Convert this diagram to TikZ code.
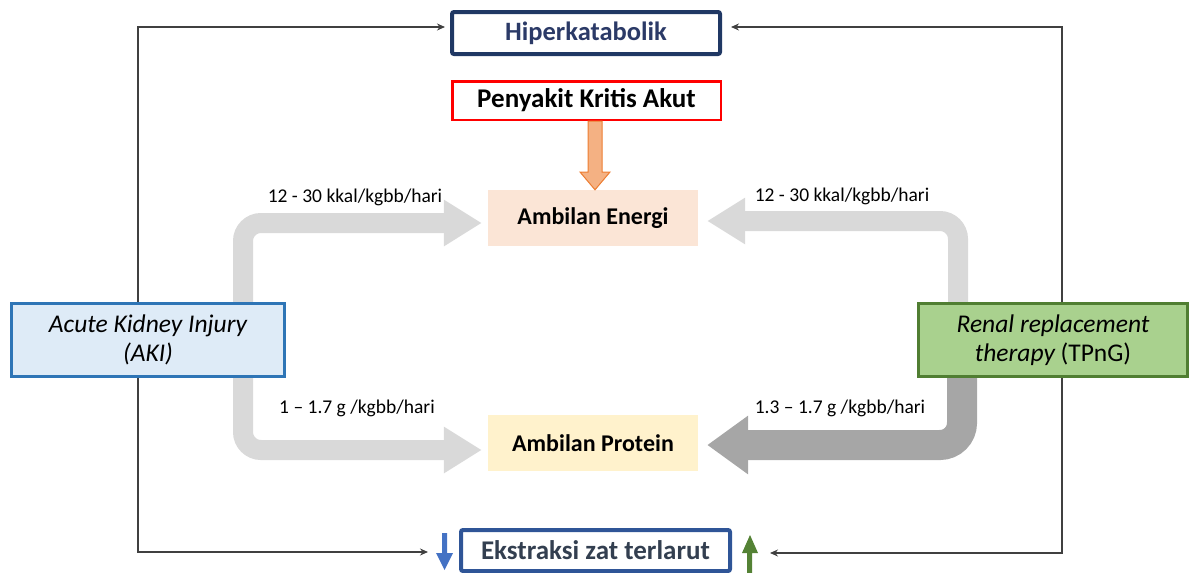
\documentclass[tikz,border=0pt]{standalone}
\usepackage{fontspec}
\setmainfont{Carlito}
\usetikzlibrary{arrows.meta}
\definecolor{navy}{HTML}{203864}
\definecolor{navytext}{HTML}{2B3A67}
\definecolor{slate}{HTML}{333F50}
\definecolor{oranfill}{HTML}{F4B183}
\definecolor{oranline}{HTML}{ED7D31}
\definecolor{peach}{HTML}{FBE5D6}
\definecolor{cream}{HTML}{FFF2CC}
\definecolor{akifill}{HTML}{DEEBF7}
\definecolor{akiline}{HTML}{2E75B6}
\definecolor{rrtfill}{HTML}{A9D18E}
\definecolor{rrtline}{HTML}{507E32}
\definecolor{extline}{HTML}{2F5597}
\definecolor{lightgray}{HTML}{D9D9D9}
\definecolor{midgray}{HTML}{A6A6A6}
\definecolor{bluearrow}{HTML}{4472C4}
\definecolor{greenarrow}{HTML}{548235}
\definecolor{linkgray}{HTML}{404040}
\begin{document}
\begin{tikzpicture}[x=1pt,y=-1pt,
  titlebox/.style={draw, rounded corners=2pt, inner sep=0pt, font=\fontsize{26.5}{30}\selectfont\bfseries},
  intakebox/.style={inner sep=0pt, minimum width=210, minimum height=56, font=\fontsize{24}{28}\selectfont\bfseries},
  sidebox/.style={draw, line width=3pt, inner sep=0pt, minimum width=272, minimum height=73, align=center, font=\fontsize{25.5}{29.5}\selectfont},
  link/.style={draw=linkgray, line width=1.2pt, {Stealth[length=8pt,width=7pt]}-{Stealth[length=8pt,width=7pt]}},
  flow/.style={line width=20pt, rounded corners=18pt, draw=lightgray, -{Triangle[length=38pt,width=44pt]}},
  flowbold/.style={line width=30pt, rounded corners=22pt, draw=midgray, -{Triangle[length=41pt,width=56pt]}},
  rate/.style={font=\fontsize{19.5}{23}\selectfont, inner sep=0pt}
]
\useasboundingbox (0,0) rectangle (1189,573);

% thin outer connectors (drawn first so the side boxes cover them)
\coordinate (hipL) at (445,27);
\coordinate (hipR) at (731,27);
\coordinate (cornerTL) at (138,27);
\coordinate (cornerBL) at (138,552);
\coordinate (cornerTR) at (1062,27);
\coordinate (cornerBR) at (1062,553);
\coordinate (extL) at (428,552);
\coordinate (extR) at (770,553);
\draw[link] (hipL) -- (cornerTL) -- (cornerBL) -- (extL);
\draw[link] (hipR) -- (cornerTR) -- (cornerBR) -- (extR);

% boxes
\node[titlebox, draw=navy, text=navytext, line width=4pt, minimum width=268, minimum height=42] (hiper) at (586,33) {Hiperkatabolik};
\node[titlebox, draw=red, rounded corners=0pt, line width=2.5pt, minimum width=268.5, minimum height=38.5, font=\fontsize{27}{30}\selectfont\bfseries] (kritis) at (586.5,100.5) {Penyakit Kritis Akut};
\node[intakebox, fill=peach] (energi) at (593,218) {Ambilan Energi};
\node[intakebox, fill=cream] (protein) at (593,443) {Ambilan Protein};

% coordinates for the bent flow arrows
\coordinate (akiUp) at (243,303);
\coordinate (akiDown) at (243,377);
\coordinate (rrtUp) at (958,303);
\coordinate (rrtDown) at (962,377);

\draw[flow] (akiUp) |- ([xshift=-6pt,yshift=-5pt]energi.west);
\draw[flow] (akiDown) |- ([xshift=-6pt,yshift=-7pt]protein.west);
\draw[flow] (rrtUp) |- ([xshift=9pt,yshift=-3pt]energi.east);
\draw[flowbold] (rrtDown) |- ([xshift=9pt,yshift=-2pt]protein.east);

\node[sidebox, fill=akifill, draw=akiline, minimum width=273] (aki) at (148,340) {\itshape Acute Kidney Injury\\\itshape (AKI)};
\node[sidebox, fill=rrtfill, draw=rrtline, minimum width=269] (rrt) at (1053,340) {\itshape Renal replacement\\{\itshape therapy} (TPnG)};

\node[titlebox, draw=extline, text=slate, line width=4pt, minimum width=269, minimum height=41, font=\fontsize{27}{30}\selectfont\bfseries] (ekstr) at (595.5,550.5) {Ekstraksi zat terlarut};

% rate labels
\node[rate] (rEL) at (355,197) {12 - 30 kkal/kgbb/hari};
\node[rate] (rER) at (842,196) {12 - 30 kkal/kgbb/hari};
\node[rate] (rPL) at (357,408) {1 – 1.7 g /kgbb/hari};
\node[rate] (rPR) at (840,408) {1.3 – 1.7 g /kgbb/hari};

% orange block arrow from the critical-illness box into energy intake
\coordinate (oTop) at (kritis.south -| 595,0);
\coordinate (oTip) at (energi.north -| 595,0);
\fill[oranfill, draw=oranline, line width=1pt, line join=miter]
  ([xshift=-7pt]oTop) -- ([xshift=-7pt]oTop |- 0,172) -- ([xshift=-15pt]oTop |- 0,172)
  -- (oTip) -- ([xshift=15pt]oTop |- 0,172) -- ([xshift=7pt]oTop |- 0,172)
  -- ([xshift=7pt]oTop) -- cycle;

% up/down indicators beside the extraction box
\fill[bluearrow] (442,533) -- (447,533) -- (447,553) -- (453,553) -- (444.5,570) -- (436,553) -- (442,553) -- cycle;
\fill[greenarrow] (747,573) -- (752,573) -- (752,553) -- (758,553) -- (750,535) -- (742,553) -- (747,553) -- cycle;
\end{tikzpicture}
\end{document}
